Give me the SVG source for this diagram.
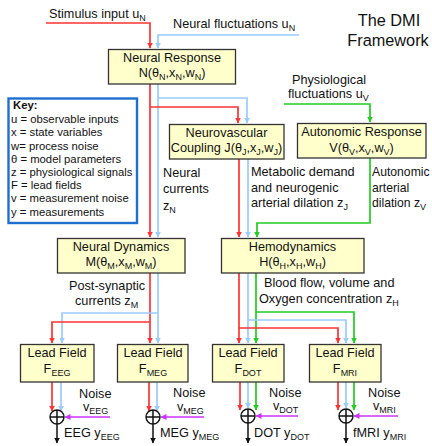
<svg xmlns="http://www.w3.org/2000/svg" width="432" height="446" viewBox="0 0 432 446">
<style>
text{font-family:"Liberation Sans",Arial,sans-serif;font-size:12.7px;fill:#111}
.c{text-anchor:middle}
.k{font-size:11.3px}
.t{font-size:16.3px}
.a{font-size:12.2px}
.b{fill:#ffffcc;stroke:#333;stroke-width:1.3}
.r{stroke:#ff3333;stroke-width:1.7;fill:none}
.u{stroke:#99ccff;stroke-width:1.7;fill:none}
.g{stroke:#22cc22;stroke-width:1.7;fill:none}
.m{stroke:#cc33ff;stroke-width:1.7;fill:none}
.d{stroke:#111;stroke-width:1.5;fill:none}
.sum{fill:#fff;stroke:#111;stroke-width:1.4}
</style>
<defs>
<marker id="ar" markerWidth="6" markerHeight="6" refX="5.5" refY="3" orient="auto" markerUnits="userSpaceOnUse"><path d="M0,0L6,3L0,6z" fill="#ff3333"/></marker>
<marker id="au" markerWidth="6" markerHeight="6" refX="5.5" refY="3" orient="auto" markerUnits="userSpaceOnUse"><path d="M0,0L6,3L0,6z" fill="#99ccff"/></marker>
<marker id="ag" markerWidth="6" markerHeight="6" refX="5.5" refY="3" orient="auto" markerUnits="userSpaceOnUse"><path d="M0,0L6,3L0,6z" fill="#22cc22"/></marker>
<marker id="am" markerWidth="6" markerHeight="6" refX="5.5" refY="3" orient="auto" markerUnits="userSpaceOnUse"><path d="M0,0L6,3L0,6z" fill="#cc33ff"/></marker>
<marker id="ad" markerWidth="6" markerHeight="6" refX="5.5" refY="3" orient="auto" markerUnits="userSpaceOnUse"><path d="M0,0L6,3L0,6z" fill="#111"/></marker>
</defs>

<g id="title"><text class="t c" x="389" y="26">The DMI</text><text class="t c" x="388" y="46">Framework</text></g>

<g id="connectors">
<path class="r" d="M46,23H150V48" marker-end="url(#ar)"/>
<path class="u" d="M299,35H158V48" marker-end="url(#au)"/>
<path class="g" d="M284,104H370V122" marker-end="url(#ag)"/>
<path class="r" d="M150,84V237" marker-end="url(#ar)"/>
<path class="u" d="M158,84V237" marker-end="url(#au)"/>
<path class="u" d="M158,98H247V123" marker-end="url(#au)"/>
<path class="r" d="M150,107H238V123" marker-end="url(#ar)"/>
<path class="r" d="M239,159V237" marker-end="url(#ar)"/>
<path class="u" d="M248,159V237" marker-end="url(#au)"/>
<path class="g" d="M370,158V223H257V237" marker-end="url(#ag)"/>
<path class="r" d="M150,273V343" marker-end="url(#ar)"/>
<path class="u" d="M158,273V343" marker-end="url(#au)"/>
<path class="u" d="M158,313H62V343" marker-end="url(#au)"/>
<path class="r" d="M150,322H52V343" marker-end="url(#ar)"/>
<path class="r" d="M239,273V343" marker-end="url(#ar)"/>
<path class="u" d="M248,273V343" marker-end="url(#au)"/>
<path class="g" d="M256,273V343" marker-end="url(#ag)"/>
<path class="g" d="M256,312H354V343" marker-end="url(#ag)"/>
<path class="u" d="M248,320H346V343" marker-end="url(#au)"/>
<path class="r" d="M239,328H338V343" marker-end="url(#ar)"/>
<path class="r" d="M52,382V411" marker-end="url(#ar)"/>
<path class="u" d="M61,382V411" marker-end="url(#au)"/>
<path class="r" d="M149,382V411" marker-end="url(#ar)"/>
<path class="u" d="M157,382V411" marker-end="url(#au)"/>
<path class="r" d="M240,382V410" marker-end="url(#ar)"/>
<path class="u" d="M248,382V408" marker-end="url(#au)"/>
<path class="g" d="M256,382V410" marker-end="url(#ag)"/>
<path class="r" d="M338,382V410" marker-end="url(#ar)"/>
<path class="u" d="M346,382V408" marker-end="url(#au)"/>
<path class="g" d="M354,382V410" marker-end="url(#ag)"/>
<path class="m" d="M110,417H65" marker-end="url(#am)"/>
<path class="m" d="M204,417H161" marker-end="url(#am)"/>
<path class="m" d="M298,416H256" marker-end="url(#am)"/>
<path class="m" d="M398,416H354" marker-end="url(#am)"/>
<path class="d" d="M57,424V443" marker-end="url(#ad)"/>
<path class="d" d="M153,424V443" marker-end="url(#ad)"/>
<path class="d" d="M248,423V443" marker-end="url(#ad)"/>
<path class="d" d="M346,423V443" marker-end="url(#ad)"/>
</g>

<g id="input-labels">
<text x="49" y="18">Stimulus input u<tspan dy="3" font-size="9">N</tspan></text>
<text x="173" y="28">Neural fluctuations u<tspan dy="3" font-size="9">N</tspan></text>
<text class="c" x="329" y="84">Physiological</text>
<text x="288" y="98">fluctuations u<tspan dy="3" font-size="9">V</tspan></text>
</g>

<g id="key">
<rect x="8.5" y="98.5" width="128.5" height="124.5" fill="#fff" stroke="#1f6fd1" stroke-width="2.4"/>
<text class="k" x="13" y="109" font-weight="bold">Key:</text>
<text class="k" x="11" y="122.5">u = observable inputs</text>
<text class="k" x="11" y="136">x = state variables</text>
<text class="k" x="11" y="149.5">w= process noise</text>
<text class="k" x="11" y="163">θ = model parameters</text>
<text class="k" x="11" y="176">z = physiological signals</text>
<text class="k" x="11" y="189">F = lead fields</text>
<text class="k" x="11" y="202">v = measurement noise</text>
<text class="k" x="11" y="215.5">y = measurements</text>
</g>

<g id="neural-response">
<rect class="b" x="108.5" y="49.5" width="127" height="34.5"/>
<text class="c" x="172" y="62">Neural Response</text>
<text class="c" x="172" y="77">N(θ<tspan dy="3" font-size="9">N</tspan><tspan dy="-3">,x</tspan><tspan dy="3" font-size="9">N</tspan><tspan dy="-3">,w</tspan><tspan dy="3" font-size="9">N</tspan><tspan dy="-3">)</tspan></text>
</g>

<g id="neurovascular-coupling">
<rect class="b" x="169.5" y="124.5" width="114.5" height="34.5"/>
<text class="c" x="226.5" y="137">Neurovascular</text>
<text class="c" x="226.5" y="152">Coupling J(θ<tspan dy="3" font-size="9">J</tspan><tspan dy="-3">,x</tspan><tspan dy="3" font-size="9">J</tspan><tspan dy="-3">,w</tspan><tspan dy="3" font-size="9">J</tspan><tspan dy="-3">)</tspan></text>
</g>

<g id="autonomic-response">
<rect class="b" x="297.5" y="123.5" width="128.5" height="34.5"/>
<text class="c" x="361.5" y="136">Autonomic Response</text>
<text class="c" x="361.5" y="152">V(θ<tspan dy="3" font-size="9">V</tspan><tspan dy="-3">,x</tspan><tspan dy="3" font-size="9">V</tspan><tspan dy="-3">,w</tspan><tspan dy="3" font-size="9">V</tspan><tspan dy="-3">)</tspan></text>
</g>

<g id="mid-labels">
<text x="163" y="177">Neural</text>
<text x="163" y="193">currents</text>
<text x="163" y="210">z<tspan dy="3" font-size="9">N</tspan></text>
<text x="251" y="176">Metabolic demand</text>
<text x="251" y="192">and neurogenic</text>
<text x="251" y="207">arterial dilation z<tspan dy="3" font-size="9">J</tspan></text>
<text class="a" x="372" y="176">Autonomic</text>
<text class="a" x="372" y="192">arterial</text>
<text class="a" x="372" y="207">dilation z<tspan dy="3" font-size="9">V</tspan></text>
</g>

<g id="neural-dynamics">
<rect class="b" x="57.5" y="238.5" width="127.5" height="34.5"/>
<text class="c" x="121" y="251">Neural Dynamics</text>
<text class="c" x="121" y="266">M(θ<tspan dy="3" font-size="9">M</tspan><tspan dy="-3">,x</tspan><tspan dy="3" font-size="9">M</tspan><tspan dy="-3">,w</tspan><tspan dy="3" font-size="9">M</tspan><tspan dy="-3">)</tspan></text>
</g>

<g id="hemodynamics">
<rect class="b" x="221.5" y="238.5" width="142.5" height="34.5"/>
<text class="c" x="292.5" y="251">Hemodynamics</text>
<text class="c" x="292.5" y="266">H(θ<tspan dy="3" font-size="9">H</tspan><tspan dy="-3">,x</tspan><tspan dy="3" font-size="9">H</tspan><tspan dy="-3">,w</tspan><tspan dy="3" font-size="9">H</tspan><tspan dy="-3">)</tspan></text>
</g>

<g id="lower-labels">
<text x="69" y="290">Post-synaptic</text>
<text x="75" y="305">currents z<tspan dy="3" font-size="9">M</tspan></text>
<text x="264" y="287">Blood flow, volume and</text>
<text x="259" y="303">Oxygen concentration z<tspan dy="3" font-size="9">H</tspan></text>
</g>

<g id="lead-field-eeg">
<rect class="b" x="20.5" y="344.5" width="73.5" height="37.5"/>
<text class="c" x="57" y="357">Lead Field</text>
<text class="c" x="57" y="373">F<tspan dy="3" font-size="9">EEG</tspan></text>
</g>
<g id="lead-field-meg">
<rect class="b" x="117.5" y="344.5" width="70.5" height="37.5"/>
<text class="c" x="153" y="357">Lead Field</text>
<text class="c" x="153" y="373">F<tspan dy="3" font-size="9">MEG</tspan></text>
</g>
<g id="lead-field-dot">
<rect class="b" x="212.5" y="344.5" width="71.5" height="37.5"/>
<text class="c" x="248" y="357">Lead Field</text>
<text class="c" x="248" y="373">F<tspan dy="3" font-size="9">DOT</tspan></text>
</g>
<g id="lead-field-mri">
<rect class="b" x="309.5" y="344.5" width="71.5" height="37.5"/>
<text class="c" x="345" y="357">Lead Field</text>
<text class="c" x="345" y="373">F<tspan dy="3" font-size="9">MRI</tspan></text>
</g>

<g id="sum-eeg">
<circle class="sum" cx="57" cy="417" r="7"/><path class="d" d="M50,417H64M57,410V424"/>
<text x="79" y="398">Noise</text>
<text x="83" y="411">v<tspan dy="3" font-size="9">EEG</tspan></text>
<text x="64" y="437">EEG y<tspan dy="3" font-size="9">EEG</tspan></text>
</g>
<g id="sum-meg">
<circle class="sum" cx="153" cy="417" r="7"/><path class="d" d="M146,417H160M153,410V424"/>
<text x="173" y="397">Noise</text>
<text x="177" y="411">v<tspan dy="3" font-size="9">MEG</tspan></text>
<text x="160" y="437">MEG y<tspan dy="3" font-size="9">MEG</tspan></text>
</g>
<g id="sum-dot">
<circle class="sum" cx="248" cy="416" r="7"/><path class="d" d="M241,416H255M248,409V423"/>
<text x="269" y="397">Noise</text>
<text x="273" y="410">v<tspan dy="3" font-size="9">DOT</tspan></text>
<text x="254" y="437">DOT y<tspan dy="3" font-size="9">DOT</tspan></text>
</g>
<g id="sum-mri">
<circle class="sum" cx="346" cy="416" r="7"/><path class="d" d="M339,416H353M346,409V423"/>
<text x="368" y="397">Noise</text>
<text x="373" y="410">v<tspan dy="3" font-size="9">MRI</tspan></text>
<text x="353" y="437">fMRI y<tspan dy="3" font-size="9">MRI</tspan></text>
</g>
</svg>
